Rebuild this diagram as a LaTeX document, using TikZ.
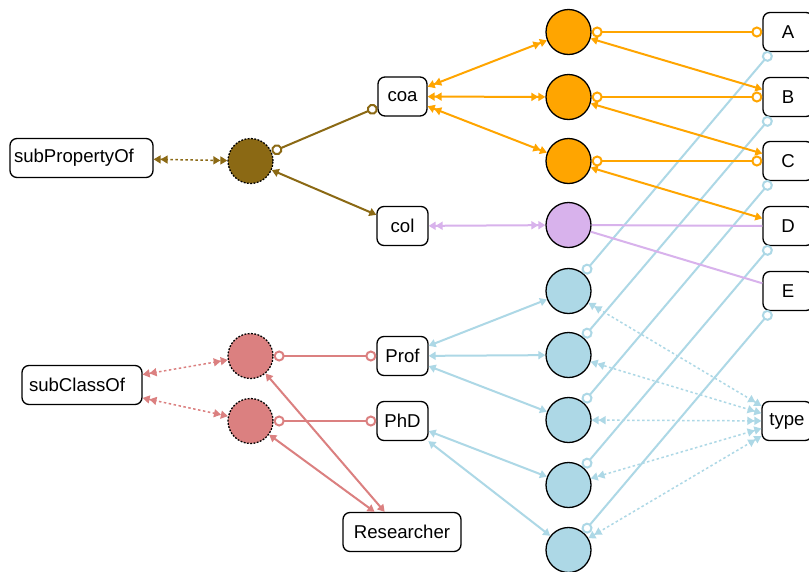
\documentclass[tikz,border=0pt]{standalone}
\usepackage{fontspec}
\setmainfont{Liberation Sans}
\usetikzlibrary{arrows.meta}

\definecolor{cOrange}{RGB}{255,165,0}
\definecolor{cPurple}{RGB}{216,178,236}
\definecolor{cBlue}{RGB}{173,216,230}
\definecolor{cBrown}{RGB}{139,105,20}
\definecolor{cPink}{RGB}{219,128,128}

\tikzset{
  hring/.tip={Circle[open,length=11pt,width=11pt,line width=2pt]},
  hsgl/.tip={Triangle[length=7pt,width=8pt]},
  hdbl/.tip={Triangle[length=7pt,width=8pt]Triangle[length=7pt,width=8pt]},
  box/.style={draw=black, line width=1.3pt, rounded corners=7pt, fill=white,
    minimum height=39pt, inner sep=0pt, font=\fontsize{18.6}{22}\selectfont},
  stmt/.style={circle, draw=black, line width=1.3pt, minimum size=45pt, inner sep=0pt},
  meta/.style={stmt, dash pattern=on 1.8pt off 1.5pt},
  link/.style={line width=2pt},
  dotlink/.style={line width=1.5pt, dash pattern=on 2.5pt off 2.5pt},
}

\begin{document}
\begin{tikzpicture}[x=1pt, y=-1pt]
\useasboundingbox[fill=white] (0,0) rectangle (809,571);

% label boxes
\node[box, minimum width=143pt, text width=135pt, align=left] (sp) at (81.5,158) {subPropertyOf};
\node[box, minimum width=120pt, text width=106pt, align=left] (sc) at (82,385) {subClassOf};
\node[box, minimum width=49pt]  (coa)  at (402.5,96.5) {coa};
\node[box, minimum width=51pt]  (col)  at (402.5,226) {col};
\node[box, minimum width=51pt]  (prof) at (402.5,356) {Prof};
\node[box, minimum width=51pt]  (phd)  at (402.5,421) {PhD};
\node[box, minimum width=118pt] (res)  at (402,532)   {Researcher};
\node[box, minimum width=50pt]  (A)    at (788,32)    {A};
\node[box, minimum width=50pt]  (B)    at (788,97)    {B};
\node[box, minimum width=50pt]  (C)    at (788,161)   {C};
\node[box, minimum width=50pt]  (D)    at (788,226)   {D};
\node[box, minimum width=50pt]  (E)    at (788,291)   {E};
\node[box, minimum width=50pt]  (type) at (787,421)   {type};

% statement circles
\node[meta, fill=cBrown] (mb)  at (250.5,161) {};
\node[meta, fill=cPink]  (mp1) at (250.5,356) {};
\node[meta, fill=cPink]  (mp2) at (250.5,421) {};
\node[stmt, fill=cOrange] (o1) at (568.5,32)  {};
\node[stmt, fill=cOrange] (o2) at (568.5,97)  {};
\node[stmt, fill=cOrange] (o3) at (568.5,161) {};
\node[stmt, fill=cPurple] (p1) at (568.5,225) {};
\node[stmt, fill=cBlue]   (b1) at (568.5,291) {};
\node[stmt, fill=cBlue]   (b2) at (568.5,355) {};
\node[stmt, fill=cBlue]   (b3) at (568.5,420) {};
\node[stmt, fill=cBlue]   (b4) at (568.5,485) {};
\node[stmt, fill=cBlue]   (b5) at (568.5,550) {};

% type statements
\foreach \s/\o in {b1/A, b2/B, b3/C, b4/D, b5/E}
  \draw[link, cBlue, hring-hring] (\s) -- (\o);
\foreach \s/\o in {b1/prof, b2/prof, b3/prof, b4/phd, b5/phd}
  \draw[link, cBlue, hsgl-hsgl] (\o) -- (\s);
\foreach \s in {b1, b2, b3, b4, b5}
  \draw[dotlink, cBlue, hdbl-hdbl] (type) -- (\s);

% col statement
\draw[link, cPurple, hdbl-hdbl] (col) -- (p1);
\draw[link, cPurple] (p1) -- (D);
\draw[link, cPurple] (p1) -- (E);

% coa statements
\foreach \s/\a/\b in {o1/A/B, o2/B/C, o3/C/D} {
  \draw[link, cOrange, hdbl-hdbl] (coa) -- (\s);
  \draw[link, cOrange, hring-hring] (\s) -- (\a);
  \draw[link, cOrange, hsgl-hsgl] (\s) -- (\b);
}

% subPropertyOf statement
\draw[link, cBrown, hring-hring] (mb) -- (coa);
\draw[link, cBrown, hsgl-hsgl] (mb) -- (col);
\draw[dotlink, cBrown, hdbl-hdbl] (sp) -- (mb);

% subClassOf statements
\draw[link, cPink, hring-hring] (mp1) -- (prof);
\draw[link, cPink, hring-hring] (mp2) -- (phd);
\draw[link, cPink, hsgl-hsgl] (mp1) -- (res);
\draw[link, cPink, hsgl-hsgl] (mp2) -- (res);
\draw[dotlink, cPink, hdbl-hdbl] (sc) -- (mp1);
\draw[dotlink, cPink, hdbl-hdbl] (sc) -- (mp2);
\end{tikzpicture}
\end{document}
